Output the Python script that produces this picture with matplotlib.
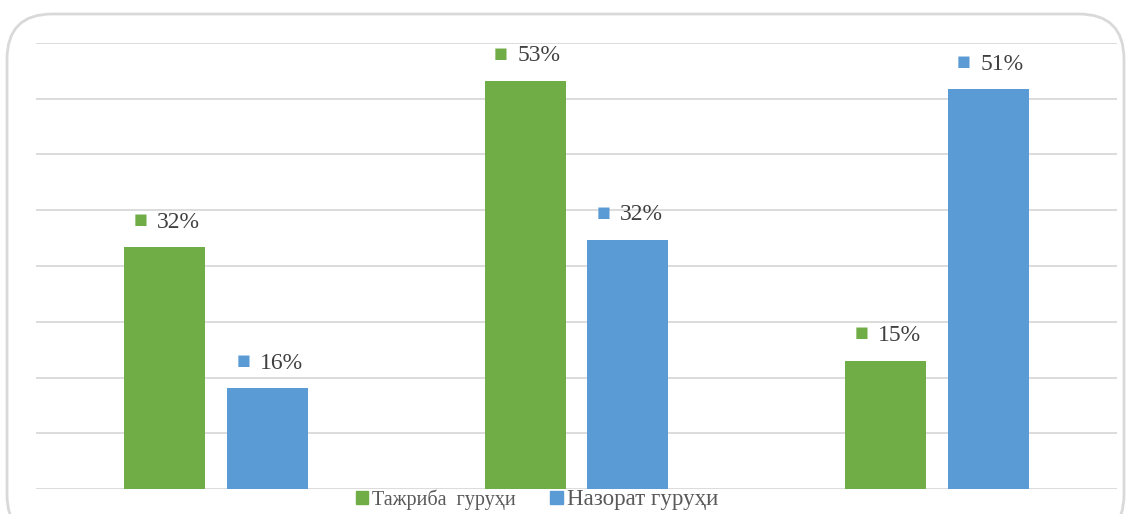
import matplotlib.pyplot as plt
import numpy as np
from matplotlib.patches import FancyBboxPatch, Patch

groups = ['1', '2', '3']
series = ['Тажриба  гуруҳи', 'Назорат гуруҳи']
green_vals = [43.4, 73.2, 23.0]
blue_vals = [18.1, 44.7, 71.7]
green_lbl = ['32%', '53%', '15%']
blue_lbl = ['16%', '32%', '51%']
colors = ['#70AD47', '#5B9BD5']

plt.rcParams['font.family'] = ['Liberation Serif', 'DejaVu Serif']

fig = plt.figure(figsize=(11.32, 5.14), dpi=100)
# rounded frame around chart
fig.patches.append(FancyBboxPatch((7/1132, -0.05), 1117/1132, (514-14)/514 + 0.05,
                                  boxstyle='round,pad=0,rounding_size=0.04',
                                  transform=fig.transFigure, fill=False,
                                  ec='#d9d9d9', lw=2, mutation_aspect=2.2))
ax = fig.add_axes([36/1132, 25/514, (1117-36)/1132, (489-43)/514])

x = np.arange(len(groups))
w = 0.225
off = 0.1425
for vals, lbls, c, sgn in [(green_vals, green_lbl, colors[0], -1), (blue_vals, blue_lbl, colors[1], 1)]:
    ax.bar(x + sgn*off, vals, w, color=c, zorder=3)
    for xi, v, l in zip(x + sgn*off, vals, lbls):
        ax.annotate('■', (xi, v), xytext=(-17.5, 20), textcoords='offset points', ha='center',
                    va='center', color=c, fontsize=10.5, family='DejaVu Sans')
        ax.annotate(l, (xi, v), xytext=(10, 18), textcoords='offset points', ha='center',
                    va='center', color='#404040', fontsize=17)

ax.set_ylim(0, 80)
ax.set_xlim(-0.5, 2.5)
ax.set_yticks(np.arange(0, 81, 10))
ax.grid(axis='y', color='#d9d9d9', lw=1.3, zorder=0)
ax.tick_params(left=False, bottom=False, labelleft=False, labelbottom=False)
for s in ax.spines.values():
    s.set_visible(False)

handles = [Patch(color=c) for c in colors]
leg = fig.legend(handles, series, loc='center', bbox_to_anchor=(537/1132, 1 - 499/514), ncol=2,
                 frameon=False, fontsize=14.5, labelcolor='#595959', handlelength=0.62,
                 handleheight=0.62, handletextpad=0.2, columnspacing=1.7)
leg.get_texts()[1].set_fontsize(16.5)

plt.savefig('out.png', dpi=100)
